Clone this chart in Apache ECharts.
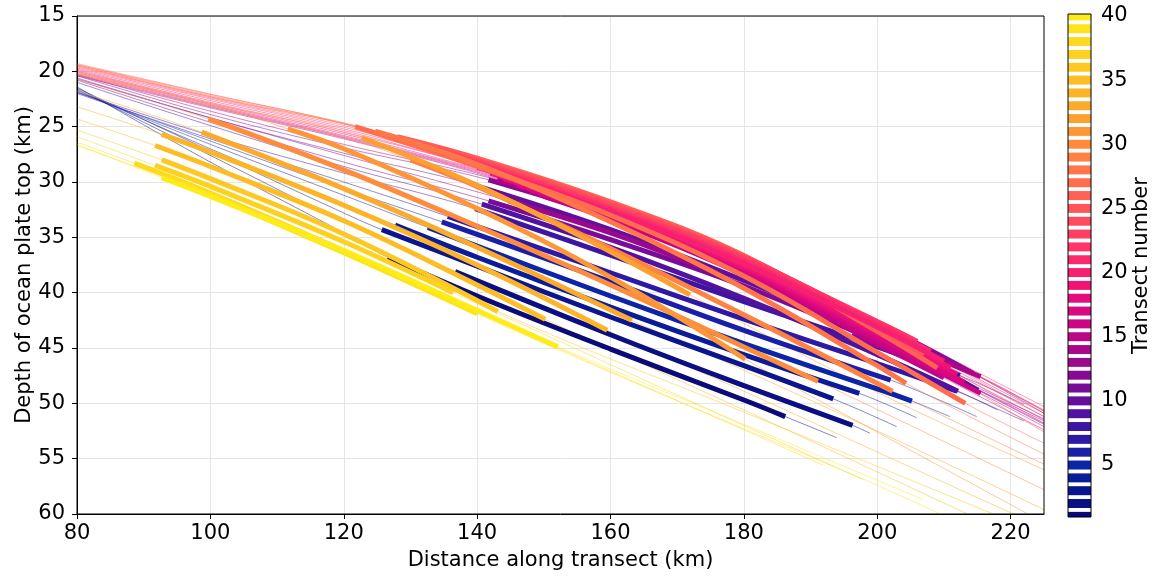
<!DOCTYPE html>
<html><head><meta charset="utf-8">
<script src="https://cdn.jsdelivr.net/npm/echarts@6/dist/echarts.min.js"></script>
<style>html,body{margin:0;padding:0;background:#fff}#c{width:1157px;height:579px}</style>
</head><body><div id="c"></div>
<script>
// Transect numbers (colour key)
const transectNumbers = [1,2,3,4,5,6,7,8,9,10,11,12,13,14,15,16,17,18,19,20,21,22,23,24,25,26,27,28,29,30,31,32,33,34,35,36,37,38,39,40];

// Colour of each transect
const transectColors = ['#0b0b77','#0a0f82','#0a158e','#0a1c9a','#0b25a6','#1a1fa8','#2c19a6','#3d15a3','#50129f','#630f9b',
  '#760c97','#880a93','#9a088f','#ab068b','#bc0587','#cb0584','#d90880','#e50d7c','#ef1577','#f71f72',
  '#fc2a6d','#ff3568','#ff4063','#ff4b5e','#ff5659','#ff6154','#ff6c4e','#ff7748','#ff8242','#fe8c3c',
  '#fd9636','#fca031','#fcaa2c','#fcb428','#fcbe24','#fdc821','#fdd11f','#fdda1d','#fee31b','#feec19'];

// Depth of the plate top along each transect: [distance km, depth km]
const thinLines = [
  [[80,21.4],[100,28.2],[120,34.6],[126.6,36.8],[140,40.3],[160,45.1],[180,49.7],[186.2,51.2],[193.9,53.1]],
  [[80,21.6],[100,27.6],[120,33.6],[136.7,38.1],[160,43.8],[180,48.4],[196.3,52.0],[198.9,52.7]],
  [[80,21.5],[100,27.2],[120,32.8],[125.7,34.3],[140,37.6],[160,42.2],[180,46.6],[193.4,49.6],[202.9,52.1]],
  [[80,21.7],[100,27.0],[120,32.1],[127.7,33.9],[140,36.8],[160,41.3],[180,45.6],[197.3,49.1],[205.9,51.3]],
  [[80,21.8],[100,26.6],[120,31.2],[132.6,34.1],[140,35.8],[160,40.3],[180,44.6],[200,48.7],[205.2,49.8],[210.9,51.2]],
  [[80,21.9],[100,26.3],[120,30.6],[134.7,33.6],[160,39.0],[180,43.4],[202,47.9],[214.9,51.2]],
  [[80,22.0],[100,26.1],[120,30.0],[135.6,33.1],[160,38.2],[180,42.4],[200,46.4],[211.9,48.9],[218,50.6]],
  [[80,21.9],[100,25.8],[120,29.2],[139.7,32.4],[160,36.6],[180,40.8],[200,44.9],[212.4,47.5],[222,50.1]],
  [[80,21.0],[100,24.9],[120,28.6],[140.7,32.0],[160,35.9],[180,40.5],[200,45.6],[212.1,48.9],[222,51.6]],
  [[80,20.6],[100,24.2],[120,27.4],[139.7,30.3],[160,34.3],[180,38.9],[200,44.0],[215.1,48.8],[225,51.9]],
  [[80,20.8],[100,24.6],[120,28.2],[141.7,31.7],[160,35.2],[180,39.4],[200,44.4],[211.2,47.5],[225,51.4]],
  [[80,20.4],[100,23.9],[120,26.9],[141.7,29.8],[160,33.2],[180,37.6],[200,42.8],[214.4,47.3],[225,50.9]],
  [[80,20.7],[100,24.2],[120,27.6],[144.7,31.7],[160,34.6],[175,38.0],[180,39.2],[196.2,43.8],[200,44.8],[210.2,47.4],[225,51.6]],
  [[80,20.3],[100,23.6],[120,26.6],[143,29.8],[160,33.0],[170,35.1],[180,37.6],[200,43.4],[208.4,45.8],[215.5,47.6],[225,50.7]],
  [[80,20.4],[100,23.3],[120,26.1],[140,29.2],[150,31.3],[160,33.4],[180,38.4],[200,44.6],[210,47.7],[225,52.4]],
  [[80,20.3],[100,23.2],[120,26.0],[140,29.1],[148,30.8],[160,33.3],[180,38.2],[200,44.3],[215.5,49.1],[225,52.1]],
  [[80,20.2],[100,23.1],[120,25.9],[140,29.0],[146,30.25],[160,33.15],[180,38.0],[200,44.0],[213,48.1],[225,51.8]],
  [[80,20.1],[100,23.0],[120,25.8],[140,28.9],[144,29.7],[160,33.0],[180,37.8],[200,43.7],[212,47.4],[225,51.5]],
  [[80,20.0],[100,22.9],[120,25.65],[140,28.8],[142,29.2],[160,32.85],[180,37.6],[200,43.4],[211,46.8],[225,51.2]],
  [[80,19.9],[100,22.8],[120,25.5],[140,28.65],[160,32.7],[180,37.4],[200,43.1],[210,46.2],[225,50.9]],
  [[80,19.8],[100,22.65],[120,25.35],[138,28.2],[140,28.5],[160,32.55],[180,37.2],[200,42.85],[208,45.3],[225,50.6]],
  [[80,19.7],[100,22.5],[120,25.2],[136,27.7],[140,28.35],[160,32.4],[180,37.0],[200,42.6],[206,44.4],[225,50.3]],
  [[80,19.6],[100,22.4],[120,25.05],[134,27.25],[140,28.2],[160,32.25],[180,36.85],[200,42.7],[205,44.3],[225,50.7]],
  [[80,19.5],[100,22.3],[120,24.9],[132,26.8],[140,28.1],[160,32.1],[180,36.75],[200,42.9],[206,44.9],[225,51.2]],
  [[80,19.4],[100,22.2],[120,24.75],[130,26.35],[140,27.95],[160,31.95],[180,36.7],[200,43.2],[207,45.6],[225,51.8]],
  [[80,19.3],[100,22.05],[120,24.65],[128,25.9],[140,27.85],[160,31.8],[180,36.65],[200,43.5],[209,46.8],[225,52.6]],
  [[80,19.4],[100,22.1],[121.7,25.0],[140,28.6],[160,33.0],[180,38.5],[200,45.4],[213.2,50.0],[225,53.6]],
  [[80,19.5],[100,22.3],[124.7,25.4],[140,28.4],[160,33.6],[180,39.6],[200,46.6],[204.3,48.2],[225,54.6]],
  [[80,20.3],[100,23.2],[120,26.0],[130,28.0],[140,30.4],[160,36.0],[180,42.0],[202.3,48.9],[225,55.5]],
  [[80,20.7],[99.7,24.3],[120,28.9],[140,34.0],[160,39.3],[180,44.9],[191.1,48.0],[225,57.8]],
  [[80,20.0],[100,23.0],[111.6,25.2],[120,27.0],[140,32.4],[160,38.6],[180.2,46.0],[200,52.6],[222.6,60.0]],
  [[80,20.2],[100,22.9],[122.7,26.0],[140,30.3],[160,36.3],[171.9,40.2],[200,49.0],[225,56.0]],
  [[80,21.8],[98.7,25.5],[120,30.6],[140,35.9],[163.2,42.5],[180,47.0],[200,52.5],[225,59.6]],
  [[80,23.2],[92.7,25.7],[100,27.3],[120,32.1],[140,37.5],[159.5,43.4],[180,48.9],[200,54.4],[220.4,60.0]],
  [[80,24.3],[91.7,26.7],[100,28.6],[120,33.5],[140,39.3],[150.2,42.4],[180,50.6],[200,56.2],[213.5,60.0]],
  [[80,25.3],[92.7,28.0],[100,29.7],[120,34.7],[143.1,41.7],[180,50.8],[200,55.7],[217.4,60.0]],
  [[80,25.9],[91.7,28.5],[100,30.4],[120,35.4],[136.4,40.0],[160,46.5],[180,52.0],[197.9,56.9]],
  [[80,26.4],[88.6,28.3],[100,31.0],[120,36.2],[133.2,39.9],[160,47.1],[180,52.4],[191.9,55.6]],
  [[80,26.7],[96,30.2],[100,31.2],[120,36.4],[140,41.9],[160,47.2],[180,52.3],[200,57.4],[209.4,60.0]],
  [[80,26.6],[92.7,29.6],[100,31.3],[120,36.2],[140,41.6],[152.1,44.9],[180,51.9],[206.9,58.7]]
];

// Distance ranges [from, to] where each transect is drawn thick
const thickRanges = [
  [[126.6,186.2]],[[136.7,196.3]],[[125.7,193.4]],[[127.7,197.3]],[[132.6,205.2]],
  [[134.7,202]],[[135.6,211.9]],[[139.7,212.4]],[[140.7,212.1]],[[139.7,215.1]],
  [[141.7,211.2]],[[141.7,214.4]],[[144.7,175],[196.2,210.2]],[[143,170],[208.4,215.5]],[[150,210]],
  [[148,215.5]],[[146,213]],[[144,212]],[[142,211]],[[140,210]],
  [[138,208]],[[136,206]],[[134,205]],[[132,206]],[[130,207]],
  [[128,209]],[[121.7,213.2]],[[124.7,204.3]],[[130,202.3]],[[99.7,191.1]],
  [[111.6,180.2]],[[122.7,171.9]],[[98.7,163.2]],[[92.7,159.5]],[[91.7,150.2]],
  [[92.7,143.1]],[[91.7,136.4]],[[88.6,133.2]],[[96,140]],[[92.7,152.1]]
];

// Order in which the thick segments are stacked (later = on top)
const thickDrawOrder = [1,2,3,4,5,6,7,8,9,10,11,12,13,14,15,16,17,18,19,26,25,24,23,22,21,20,27,28,29,30,31,32,33,34,35,36,37,38,39,40];

const xTickValues = [80,100,120,140,160,180,200,220];
const colorbarTickValues = [5,10,15,20,25,30,35,40];

const FONT = 'DejaVu Sans';
const SMOOTH = 0.4;
const series = [];
thinLines.forEach((pts, i) => {
  series.push({
    type: 'line', xAxisIndex: 0, yAxisIndex: 0, data: pts, symbol: 'none', silent: true,
    smooth: SMOOTH,
    z: 2, lineStyle: { color: transectColors[i], width: 1, opacity: 0.5 }
  });
});
thickDrawOrder.forEach(n => {
  const i = n - 1;
  const pts = thinLines[i];
  thickRanges[i].forEach(r => {
    series.push({
      type: 'line', xAxisIndex: 0, yAxisIndex: 0, symbol: 'none', silent: true, z: 3,
      smooth: SMOOTH,
      data: pts.filter(p => p[0] >= r[0] && p[0] <= r[1]),
      lineStyle: { color: transectColors[i], width: 5, cap: 'butt' }
    });
  });
});
series.push({
  type: 'custom', xAxisIndex: 1, yAxisIndex: 1, silent: true, z: 2,
  data: transectNumbers.map(n => [0, n]),
  renderItem: (params, api) => {
    const n = api.value(1);
    const cs = params.coordSys;
    const a = api.coord([0, n + 0.35]);
    const b = api.coord([1, n - 0.35]);
    const y0 = Math.max(a[1], cs.y);
    const y1 = Math.min(b[1], cs.y + cs.height);
    return { type: 'rect', shape: { x: a[0], y: y0, width: b[0] - a[0], height: Math.max(0, y1 - y0) },
      style: { fill: transectColors[n - 1] } };
  }
});

const labelStyle = { color: '#000', fontSize: 21, fontFamily: FONT };
const option = {
  animation: false,
  backgroundColor: '#fff',
  grid: [
    { left: 77, top: 16, width: 967, height: 498, show: true, z: 10, backgroundColor: 'transparent', borderColor: '#000', borderWidth: 1 },
    { left: 1068, top: 14, width: 23, height: 503, show: true, z: 10, backgroundColor: 'transparent', borderColor: '#000', borderWidth: 1 }
  ],
  xAxis: [
    { type: 'value', gridIndex: 0, min: 80, max: 225, interval: 20,
      axisLine: { show: true, onZero: false, lineStyle: { color: '#000', width: 1 } },
      axisTick: { show: true, length: 5, customValues: xTickValues, lineStyle: { color: '#000' } },
      axisLabel: Object.assign({ margin: 9, customValues: xTickValues }, labelStyle),
      splitLine: { show: true, lineStyle: { color: '#e5e5e5', width: 1 } },
      name: 'Distance along transect (km)', nameLocation: 'middle', nameGap: 36, nameMoveOverlap: false,
      nameTextStyle: labelStyle },
    { type: 'value', gridIndex: 1, min: 0, max: 1, show: false }
  ],
  yAxis: [
    { type: 'value', gridIndex: 0, min: 15, max: 60, interval: 5, inverse: true,
      axisLine: { show: true, onZero: false, lineStyle: { color: '#000', width: 1 } },
      axisTick: { show: true, length: 5, lineStyle: { color: '#000' } },
      axisLabel: Object.assign({ margin: 12 }, labelStyle),
      splitLine: { show: true, lineStyle: { color: '#e5e5e5', width: 1 } },
      name: 'Depth of ocean plate top (km)', nameLocation: 'middle', nameGap: 42, nameRotate: 90, nameMoveOverlap: false,
      nameTextStyle: labelStyle },
    { type: 'value', gridIndex: 1, min: 0.95, max: 40.15, position: 'right',
      axisLine: { show: false },
      axisTick: { show: true, length: 5, customValues: colorbarTickValues, lineStyle: { color: '#000' } },
      axisLabel: Object.assign({ margin: 10, customValues: colorbarTickValues }, labelStyle),
      splitLine: { show: false },
      name: 'Transect number', nameLocation: 'middle', nameGap: 40, nameRotate: 90, nameMoveOverlap: false,
      nameTextStyle: labelStyle }
  ],
  series: series
};
const chart = echarts.init(document.getElementById('c'), null, { renderer: 'canvas' });
chart.setOption(option);
</script>
</body></html>
